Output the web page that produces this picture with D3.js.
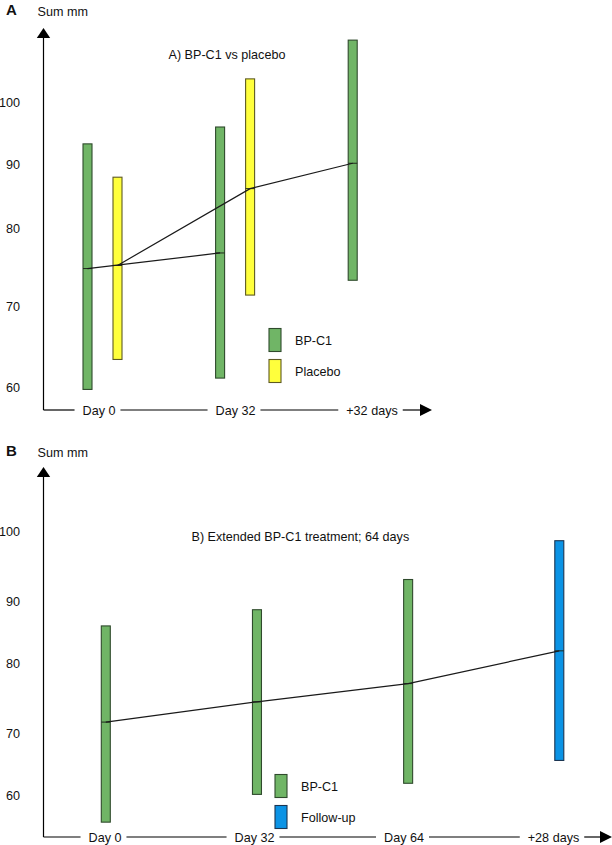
<!DOCTYPE html>
<html>
<head>
<meta charset="utf-8">
<script src="https://cdn.jsdelivr.net/npm/d3@7"></script>
<style>
  html, body { margin: 0; padding: 0; background: #fff; }
  svg { display: block; }
  text { font-family: "Liberation Sans", Arial, sans-serif; fill: #111; }
</style>
</head>
<body>
<svg id="chart" width="612" height="845"></svg>
<script>
// ---------------- DATA ----------------
const yTicks = [60, 70, 80, 90, 100];

// Panel A
const visitsA = ["Day 0", "Day 32", "+32 days"];
const bpc1A_low  = [59.7, 61.1, 73.3];
const bpc1A_high = [93.3, 96.0, 109.9];
const bpc1A_mean = [74.8, 76.8, 90.2];
const placeboA_low  = [63.4, 71.4];
const placeboA_high = [88.0, 103.7];
const placeboA_mean = [75.2, 86.2];

// Panel B
const visitsB = ["Day 0", "Day 32", "Day 64", "+28 days"];
const seriesB = ["BP-C1", "BP-C1", "BP-C1", "Follow-up"];
const bpc1B_low  = [55.6, 60.1, 61.9, 65.6];
const bpc1B_high = [86.0, 88.6, 93.1, 98.7];
const bpc1B_mean = [71.6, 74.5, 77.1, 82.0];

const colors = {
  "BP-C1":     { fill: "#70b566", stroke: "#2f4a2c" },
  "Placebo":   { fill: "#ffff3c", stroke: "#5e5a22" },
  "Follow-up": { fill: "#0b93e5", stroke: "#1b3552" }
};

// ---------------- DRAW ----------------
const svg = d3.select("#chart");
const FS = 12.6;

function arrowUp(g, x, tipY) {
  g.append("path").attr("d", `M${x},${tipY} L${x-6.7},${tipY+10} L${x+6.7},${tipY+10} Z`).attr("fill", "#000");
}
function arrowRight(g, tipX, y) {
  g.append("path").attr("d", `M${tipX},${y} L${tipX-12},${y-6} L${tipX-12},${y+6} Z`).attr("fill", "#000");
}

function drawFrame(cfg) {
  const g = svg.append("g");
  // panel letter & axis title
  g.append("text").attr("x", 6).attr("y", cfg.headY).attr("dy", "0.36em")
    .style("font-weight", "bold").style("font-size", "15px").text(cfg.letter);
  g.append("text").attr("x", 37.5).attr("y", cfg.headY + 1).attr("dy", "0.36em")
    .style("font-size", FS + "px").text("Sum mm");
  // y axis
  g.append("line").attr("x1", cfg.axisX).attr("x2", cfg.axisX)
    .attr("y1", cfg.tipY + 9).attr("y2", cfg.baseY)
    .attr("stroke", "#000").attr("stroke-width", 1.2);
  arrowUp(g, cfg.axisX, cfg.tipY);
  // y tick labels
  g.selectAll(".yt").data(yTicks).join("text")
    .attr("x", 20).attr("y", d => cfg.y(d)).attr("dy", "0.36em")
    .attr("text-anchor", "end").style("font-size", FS + "px").text(d => d);
  // x axis timeline with labels
  const labs = g.selectAll(".xl").data(cfg.visits).join("text")
    .attr("x", d => cfg.xl(d)).attr("y", cfg.baseY).attr("dy", "0.36em")
    .attr("text-anchor", "middle").style("font-size", FS + "px").text(d => d);
  const widths = labs.nodes().map(n => n.getComputedTextLength());
  let start = cfg.axisX;
  cfg.visits.forEach((v, i) => {
    const l = cfg.xl(v) - widths[i] / 2 - 8;
    g.append("line").attr("x1", start).attr("x2", l).attr("y1", cfg.baseY).attr("y2", cfg.baseY)
      .attr("stroke", "#000").attr("stroke-width", 1.2);
    start = cfg.xl(v) + widths[i] / 2 + 5;
  });
  g.append("line").attr("x1", start).attr("x2", cfg.arrowTipX - 10).attr("y1", cfg.baseY).attr("y2", cfg.baseY)
    .attr("stroke", "#000").attr("stroke-width", 1.2);
  arrowRight(g, cfg.arrowTipX, cfg.baseY);
  // title
  g.append("text").attr("x", cfg.titleX).attr("y", cfg.titleY).attr("dy", "0.36em")
    .style("font-size", FS + "px").text(cfg.title);
  return g;
}

function drawBars(g, y, bars) {
  const w = 9;
  const bg = g.append("g");
  bg.selectAll("rect").data(bars).join("rect")
    .attr("x", d => d.x - w / 2).attr("width", w)
    .attr("y", d => y(d.high)).attr("height", d => y(d.low) - y(d.high))
    .attr("fill", d => colors[d.s].fill).attr("stroke", d => colors[d.s].stroke).attr("stroke-width", 1.1);
  bg.selectAll("line").data(bars).join("line")
    .attr("x1", d => d.x - w / 2).attr("x2", d => d.x + w / 2)
    .attr("y1", d => y(d.mean)).attr("y2", d => y(d.mean))
    .attr("stroke", "#1f2a1d").attr("stroke-width", 1);
}

function drawLine(g, pts, y) {
  const line = d3.line().x(d => d.x).y(d => y(d.mean));
  g.append("path").attr("d", line(pts)).attr("fill", "none")
    .attr("stroke", "#1a1a1a").attr("stroke-width", 1.2);
}

function drawLegend(g, items, x, y0) {
  items.forEach((it, i) => {
    const yy = y0 + i * 31;
    g.append("rect").attr("x", x).attr("y", yy).attr("width", 12).attr("height", 23)
      .attr("fill", colors[it].fill).attr("stroke", colors[it].stroke).attr("stroke-width", 1.1);
    g.append("text").attr("x", x + 26).attr("y", yy + 12).attr("dy", "0.36em")
      .style("font-size", FS + "px").text(it);
  });
}

// ----- Panel A -----
const yA = d3.scaleLinear().domain(yTicks).range([387, 306, 228, 164.5, 102]);
const xA = d3.scalePoint().domain(visitsA).range([87.5, 352.7]);
const xlA = d3.scalePoint().domain(visitsA).range([99, 372]);
const placeboOffset = 30;
const gA = drawFrame({ letter: "A", headY: 10, axisX: 43.5, tipY: 28, baseY: 410, y: yA,
  visits: visitsA, xl: xlA, arrowTipX: 432, title: "A) BP-C1 vs placebo", titleX: 168.5, titleY: 54 });

const barsA = [];
visitsA.forEach((v, i) => barsA.push({ x: xA(v), s: "BP-C1", low: bpc1A_low[i], high: bpc1A_high[i], mean: bpc1A_mean[i] }));
placeboA_low.forEach((_, i) => barsA.push({ x: xA(visitsA[i]) + placeboOffset, s: "Placebo", low: placeboA_low[i], high: placeboA_high[i], mean: placeboA_mean[i] }));
drawBars(gA, yA, barsA);
// BP-C1 group: Day 0 -> Day 32
drawLine(gA, [barsA[0], barsA[1]], yA);
// Placebo group: Day 0 -> Day 32 -> then BP-C1 for +32 days
drawLine(gA, [barsA[3], barsA[4], barsA[2]], yA);
drawLegend(gA, ["BP-C1", "Placebo"], 269, 328.5);

// ----- Panel B -----
const yB = d3.scaleLinear().domain(yTicks).range([795, 733.3, 663.3, 601, 531.7]);
const xB = d3.scalePoint().domain(visitsB).range([105.8, 559.3]);
const xlB = d3.scalePoint().domain(visitsB).range([105, 553.5]);
const gB = drawFrame({ letter: "B", headY: 451, axisX: 43.5, tipY: 467, baseY: 837, y: yB,
  visits: visitsB, xl: xlB, arrowTipX: 612, title: "B) Extended BP-C1 treatment; 64 days", titleX: 191.5, titleY: 536 });
const barsB = visitsB.map((v, i) => ({ x: xB(v), s: seriesB[i], low: bpc1B_low[i], high: bpc1B_high[i], mean: bpc1B_mean[i] }));
drawBars(gB, yB, barsB);
drawLine(gB, barsB, yB);
drawLegend(gB, ["BP-C1", "Follow-up"], 275, 774.5);
</script>
</body>
</html>
